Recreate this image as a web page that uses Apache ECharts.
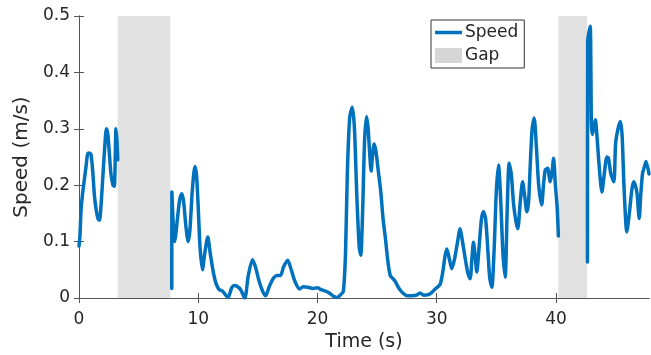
<!DOCTYPE html>
<html>
<head>
<meta charset="utf-8">
<script src="https://cdn.jsdelivr.net/npm/echarts@6/dist/echarts.min.js"></script>
<style>
  html, body { margin: 0; padding: 0; background: #fff; }
  #chart { width: 651px; height: 355px; }
</style>
</head>
<body>
<div id="chart"></div>
<script>
// Speed trace, time in seconds; null marks a break in the recording
const timeS = [
  0, 0.08, 0.17, 0.3, 0.45, 0.6, 0.72, 0.85, 1.0, 1.15, 1.3, 1.45, 1.6, 1.72, 1.85, 2.0, 2.15, 2.3, 2.42, 2.55, 2.68, 2.85, 2.96, 3.04, 3.1, 3.18, 3.25,
  5.5,
  7.78, 7.79, 7.9, 8.0, 8.1, 8.25, 8.45, 8.62, 8.78, 8.95, 9.15, 9.3, 9.5, 9.72, 9.85, 10.0, 10.15, 10.35, 10.55, 10.8, 11.0, 11.27, 11.5, 11.75, 12.05, 12.3, 12.5, 12.8, 13.05, 13.3, 13.55, 13.9, 14.2, 14.55, 14.8, 15.1, 15.4, 15.66, 15.95, 16.3, 16.6, 16.9, 17.15, 17.5, 17.8, 18.1, 18.5, 18.8, 19.2, 19.6, 20.0, 20.3, 20.7, 21.05, 21.35, 21.65, 21.95, 22.17, 22.35, 22.5, 22.7, 22.92, 23.1, 23.3, 23.5, 23.63, 23.78, 23.95, 24.12, 24.25, 24.38, 24.5, 24.6, 24.75, 24.9, 25.1, 25.3, 25.5, 25.7, 25.9, 26.1, 26.3, 26.5, 26.7, 26.9, 27.2, 27.5, 27.9, 28.3, 28.6, 28.9, 29.3, 29.6, 29.87, 30.1, 30.3, 30.5, 30.7, 30.85, 31.05, 31.26, 31.5, 31.75, 31.96, 32.1, 32.35, 32.6, 32.8, 32.95, 33.08, 33.22, 33.36, 33.55, 33.75, 33.92, 34.1, 34.3, 34.45, 34.62, 34.8, 35.0, 35.18, 35.35, 35.55, 35.74, 35.9, 36.07, 36.25, 36.45, 36.65, 36.8, 37.0, 37.2, 37.38, 37.56, 37.7, 37.85, 38.0, 38.17, 38.35, 38.55, 38.8, 38.95, 39.1, 39.3, 39.5, 39.65, 39.8, 39.95, 40.1, 40.2,
  41.4,
  42.64, 42.66, 42.75, 42.87, 42.93, 42.97, 43.05, 43.15, 43.3, 43.42, 43.6, 43.85, 44.05, 44.27, 44.4, 44.6, 44.85, 45.0, 45.2, 45.4, 45.55, 45.7, 45.94, 46.15, 46.35, 46.5, 46.65, 46.8, 46.98, 47.1, 47.26, 47.45, 47.55, 47.8
];
const speedMS = [
  0.092, 0.11, 0.155, 0.185, 0.21, 0.235, 0.255, 0.257, 0.255, 0.225, 0.18, 0.155, 0.14, 0.138, 0.165, 0.215, 0.265, 0.3, 0.29, 0.255, 0.22, 0.2, 0.198, 0.25, 0.3, 0.28, 0.245,
  null,
  0.017, 0.188, 0.13, 0.1, 0.11, 0.14, 0.175, 0.185, 0.17, 0.13, 0.1, 0.12, 0.19, 0.233, 0.22, 0.16, 0.09, 0.05, 0.08, 0.108, 0.08, 0.045, 0.025, 0.015, 0.012, 0.005, 0.001, 0.018, 0.022, 0.02, 0.015, 0.0, 0.04, 0.068, 0.055, 0.03, 0.012, 0.004, 0.02, 0.035, 0.04, 0.04, 0.055, 0.067, 0.05, 0.03, 0.016, 0.02, 0.019, 0.017, 0.018, 0.015, 0.012, 0.008, 0.003, 0.001, 0.006, 0.012, 0.08, 0.22, 0.32, 0.338, 0.3, 0.18, 0.09, 0.076, 0.15, 0.28, 0.322, 0.3, 0.255, 0.225, 0.25, 0.273, 0.26, 0.225, 0.19, 0.14, 0.105, 0.065, 0.04, 0.035, 0.03, 0.022, 0.015, 0.008, 0.004, 0.004, 0.005, 0.009, 0.005, 0.006, 0.01, 0.016, 0.02, 0.025, 0.045, 0.075, 0.087, 0.07, 0.052, 0.07, 0.1, 0.123, 0.108, 0.075, 0.045, 0.034, 0.07, 0.099, 0.075, 0.046, 0.09, 0.14, 0.153, 0.14, 0.08, 0.035, 0.019, 0.08, 0.19, 0.236, 0.18, 0.08, 0.037, 0.15, 0.239, 0.22, 0.165, 0.135, 0.123, 0.17, 0.206, 0.18, 0.153, 0.17, 0.24, 0.3, 0.319, 0.27, 0.2, 0.165, 0.2, 0.227, 0.23, 0.206, 0.22, 0.248, 0.2, 0.16, 0.11,
  null,
  0.064, 0.455, 0.47, 0.482, 0.4, 0.31, 0.29, 0.3, 0.316, 0.292, 0.24, 0.188, 0.22, 0.25, 0.248, 0.22, 0.206, 0.274, 0.3, 0.313, 0.286, 0.2, 0.117, 0.15, 0.19, 0.206, 0.2, 0.185, 0.141, 0.18, 0.221, 0.235, 0.242, 0.22
];
// Intervals with no data [start, end] in seconds
const gapStart = [3.24, 40.2];
const gapEnd = [7.66, 42.6];
const xTicks = [0, 10, 20, 30, 40];

const X_MAX = 47.8;
const axisColor = '#555';
const textColor = '#262626';
const fontFamily = 'DejaVu Sans';
const lineColor = '#0072BD';
const gapColor = '#e1e1e1';

const speedData = timeS.map((t, i) => [t, speedMS[i] === null ? '-' : speedMS[i]]);
const gapAreas = gapStart.map((s, i) => [{ xAxis: s }, { xAxis: gapEnd[i] }]);

const chart = echarts.init(document.getElementById('chart'), null, { renderer: 'canvas' });

const frameAxis = {
  axisLine: { show: true, lineStyle: { color: axisColor, width: 1 } },
  axisTick: { show: true, inside: true, length: 5, lineStyle: { color: axisColor } },
  splitLine: { show: false }
};

// plain line swatch for the legend (bounding box 27 x 15, bar in the middle)
const lineSwatch = 'path://M0,0M0,5.75L27,5.75L27,9.25L0,9.25ZM27,15';

chart.setOption({
  animation: false,
  backgroundColor: '#fff',
  grid: { left: 79, top: 16, right: 2, bottom: 57, containLabel: false, outerBoundsMode: 'none' },
  legend: {
    orient: 'vertical',
    left: 431,
    top: 20,
    padding: [4, 6, 4, 4],
    itemGap: 6,
    itemWidth: 27,
    itemHeight: 15,
    borderColor: '#333',
    borderWidth: 1,
    backgroundColor: '#fff',
    textStyle: { fontFamily, fontSize: 17, color: textColor, padding: [0, 0, 0, -2] },
    data: [
      { name: 'Speed', icon: lineSwatch, itemStyle: { color: lineColor } },
      { name: 'Gap', icon: 'rect', itemStyle: { color: '#d6d6d6' } }
    ]
  },
  xAxis: [
    Object.assign({
      type: 'value', min: 0, max: X_MAX, position: 'bottom',
      name: 'Time (s)', nameLocation: 'middle', nameGap: 34,
      nameTextStyle: { fontFamily, fontSize: 19, color: textColor },
      axisLabel: { customValues: xTicks, fontFamily, fontSize: 17, color: textColor, margin: 13 }
    }, frameAxis, {
      axisTick: Object.assign({}, frameAxis.axisTick, { customValues: xTicks })
    }),
    Object.assign({
      type: 'value', min: 0, max: X_MAX, position: 'top',
      axisLabel: { show: false }
    }, frameAxis, {
      axisTick: Object.assign({}, frameAxis.axisTick, { customValues: xTicks })
    })
  ],
  yAxis: [
    Object.assign({
      type: 'value', min: 0, max: 0.5, interval: 0.1, position: 'left',
      name: 'Speed (m/s)', nameLocation: 'middle', nameGap: 47,
      nameTextStyle: { fontFamily, fontSize: 20, color: textColor },
      axisLabel: { fontFamily, fontSize: 17, color: textColor, margin: 9 }
    }, frameAxis),
    Object.assign({
      type: 'value', min: 0, max: 0.5, interval: 0.1, position: 'right',
      axisLabel: { show: false }
    }, frameAxis)
  ],
  series: [
    {
      name: 'Gap',
      type: 'line',
      data: [],
      color: '#d6d6d6',
      markArea: {
        silent: true,
        itemStyle: { color: gapColor },
        data: gapAreas
      }
    },
    {
      name: 'Speed',
      type: 'line',
      data: speedData,
      color: lineColor,
      symbol: 'none',
      smooth: 0.25,
      connectNulls: false,
      lineStyle: { width: 3.5, color: lineColor, cap: 'round', join: 'round' },
      z: 3
    }
  ]
});
</script>
</body>
</html>
